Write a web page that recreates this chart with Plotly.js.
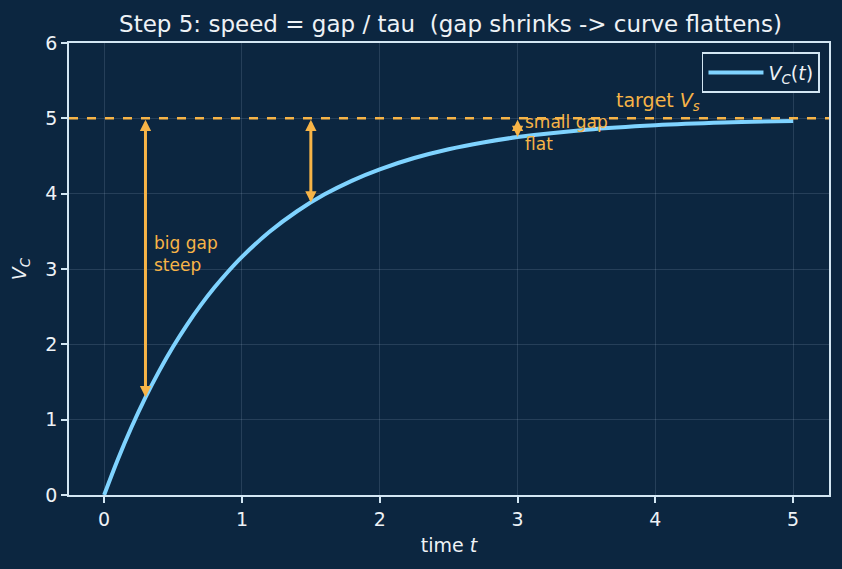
<!DOCTYPE html>
<html><head><meta charset="utf-8">
<script src="https://cdn.plot.ly/plotly-3.0.1.min.js"></script>
<style>html,body{margin:0;padding:0;background:#0c2640;}</style>
</head><body>
<div id="chart" style="width:842px;height:569px;"></div>
<script>
const tValues = [0,0.1,0.2,0.3,0.4,0.5,0.6,0.7,0.8,0.9,1.0,1.2,1.4,1.6,1.8,2.0,2.25,2.5,2.75,3.0,3.5,4.0,4.5,5.0];
const vcValues = [0,0.476,0.906,1.296,1.648,1.967,2.256,2.517,2.753,2.967,3.161,3.494,3.767,3.991,4.174,4.323,4.473,4.590,4.680,4.751,4.849,4.908,4.944,4.966];
const targetVs = 5;
const gapT = [0.3, 1.5, 3.0];
const gapV = [1.296, 3.884, 4.751];
const gapLabels = ["big gap<br>steep", null, "small gap<br>flat"];

const orange = '#f7b447';
const fg = '#eef2f6';
const axisCol = '#d3e6f3';
const gridCol = 'rgba(200,220,240,0.14)';

const annotations = [];
gapT.forEach((t, i) => {
  annotations.push({x: t, y: gapV[i], ax: t, ay: targetVs, xref: 'x', yref: 'y', axref: 'x', ayref: 'y',
    showarrow: true, arrowhead: 2, startarrowhead: 2, arrowside: 'end+start', arrowsize: 0.75, startarrowsize: 0.75,
    arrowwidth: 3, arrowcolor: orange, text: ''});
});
annotations.push({x: gapT[0] + 0.05, y: 3.2, xref: 'x', yref: 'y', text: gapLabels[0], showarrow: false,
  xanchor: 'left', yanchor: 'middle', align: 'left', font: {family: 'DejaVu Sans', size: 17, color: orange}});
annotations.push({x: gapT[2] + 0.04, y: 4.8, xref: 'x', yref: 'y', text: gapLabels[2], showarrow: false,
  xanchor: 'left', yanchor: 'middle', align: 'left', font: {family: 'DejaVu Sans', size: 17, color: orange}});
annotations.push({x: 3.7, y: targetVs + 0.03, xref: 'x', yref: 'y', text: 'target <i>V</i><sub><i>s</i></sub>', showarrow: false,
  xanchor: 'left', yanchor: 'bottom', font: {family: 'DejaVu Sans', size: 19, color: orange}});

const data = [{
  x: tValues, y: vcValues, type: 'scatter', mode: 'lines',
  line: {color: '#7fd3ff', width: 4, shape: 'spline'},
  name: '<i>V</i><sub><i>C</i></sub>(<i>t</i>)'
}];

const layout = {
  width: 842, height: 569,
  paper_bgcolor: '#0c2640', plot_bgcolor: '#0c2640',
  margin: {l: 69, r: 13, t: 43, b: 74},
  font: {family: 'DejaVu Sans', color: fg, size: 19},
  title: {text: 'Step 5: speed = gap / tau  (gap shrinks -> curve flattens)', x: 0.535, xanchor: 'center',
    y: 0.958, yanchor: 'middle', font: {size: 23, color: fg}},
  xaxis: {range: [-0.255, 5.26], tickvals: [0,1,2,3,4,5], showgrid: true, gridcolor: gridCol, gridwidth: 1,
    zeroline: false, showline: true, linecolor: axisCol, linewidth: 1.6, mirror: true,
    ticks: 'outside', ticklen: 6, tickwidth: 1.6, tickcolor: axisCol, tickfont: {size: 19, color: fg},
    title: {text: 'time <i>t</i>', font: {size: 19, color: fg}, standoff: 10}},
  yaxis: {range: [0, 6], tickvals: [0,1,2,3,4,5,6], showgrid: true, gridcolor: gridCol, gridwidth: 1,
    zeroline: false, showline: true, linecolor: axisCol, linewidth: 1.6, mirror: true,
    ticks: 'outside', ticklen: 6, tickwidth: 1.6, tickcolor: axisCol, tickfont: {size: 19, color: fg},
    title: {text: '<i>V</i><sub><i>C</i></sub>', font: {size: 19, color: fg}, standoff: 14}},
  shapes: [{type: 'line', xref: 'paper', x0: 0, x1: 1, yref: 'y', y0: targetVs, y1: targetVs,
    line: {color: orange, width: 2.5, dash: 'dash'}}],
  annotations: annotations,
  showlegend: true,
  legend: {x: 0.988, y: 0.98, xanchor: 'right', yanchor: 'top', bgcolor: '#0c2640',
    bordercolor: axisCol, borderwidth: 1.6, font: {size: 19, color: fg}, itemwidth: 55}
};

Plotly.newPlot('chart', data, layout, {displayModeBar: false});
</script>
</body></html>
